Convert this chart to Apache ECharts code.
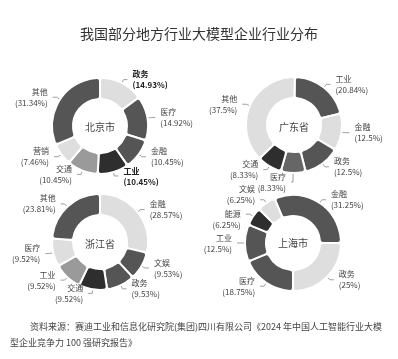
<!DOCTYPE html>
<html><head><meta charset="utf-8">
<script src="https://cdn.jsdelivr.net/npm/echarts@6/dist/echarts.min.js"></script>
<style>html,body{margin:0;padding:0;background:#fff}#c{width:398px;height:359px}</style>
</head><body><div id="c"></div>
<script>
const titleText = '我国部分地方行业大模型企业行业分布';
const sourceLine1 = '资料来源：赛迪工业和信息化研究院(集团)四川有限公司《2024 年中国人工智能行业大模';
const sourceLine2 = '型企业竞争力 100 强研究报告》';

const bjNames = ['政务','医疗','金融','工业','交通','营销','其他'];
const bjValues = [14.93,14.92,10.45,10.45,10.45,7.46,31.34];
const gdNames = ['工业','金融','政务','医疗','交通','其他'];
const gdValues = [20.84,12.5,12.5,8.33,8.33,37.5];
const zjNames = ['金融','文娱','政务','交通','工业','医疗','其他'];
const zjValues = [28.57,9.53,9.53,9.52,9.52,9.52,23.81];
const shNames = ['金融','政务','医疗','工业','能源','文娱'];
const shValues = [31.25,25,18.75,12.5,6.25,6.25];

const L='#dedede', D='#555555', V='#2e2e2e', M='#9a9a9a', G='#666666';
const bjColors=[L,D,D,V,M,L,D];
const gdColors=[D,L,D,G,V,L];
const zjColors=[L,D,D,V,M,L,D];
const shColors=[D,L,D,D,V,L];
const boldItems={'北京市':['政务','工业']};
// per-item label tweaks to keep neighbouring labels apart
const labelTweaks={
  '广东省':{'医疗':{line:{length:9,length2:2}}},
  '上海市':{'能源':{label:{formatter:'\n{b}\n({c}%)'}},'文娱':{label:{formatter:'{b}\n({c}%)\n '}}}
};

function mk(city,names,values,colors,center,start){
  const bold=boldItems[city]||[];
  const tw=labelTweaks[city]||{};
  return {
    type:'pie', center:center, radius:[27,48], startAngle:start,
    clockwise:true, avoidLabelOverlap:false,
    labelLayout:{hideOverlap:false},
    itemStyle:{borderColor:'#fff',borderWidth:2,borderRadius:3},
    label:{show:true,formatter:'{b}\n({c}%)',fontSize:8,lineHeight:11,color:'#444',
      fontFamily:'"Noto Sans CJK SC",sans-serif'},
    labelLine:{length:4,length2:4,lineStyle:{color:'#888',width:0.8}},
    emphasis:{disabled:true},
    data:names.map((n,i)=>{
      const lab=Object.assign({}, bold.includes(n)?{fontWeight:'bold',color:'#222'}:{}, (tw[n]&&tw[n].label)||{});
      const d={name:n,value:values[i],itemStyle:{color:colors[i]},label:lab};
      if(tw[n]&&tw[n].line) d.labelLine=tw[n].line;
      return d;
    })
  };
}
function centerText(t,x,y){
  return {type:'text',x:x,y:y,style:{text:t,fill:'#444',font:'10px "Noto Sans CJK SC"',align:'center',verticalAlign:'middle'}};
}
const chart=echarts.init(document.getElementById('c'),null,{renderer:'canvas'});
chart.setOption({
  backgroundColor:'#fff',
  animation:false,
  title:{text:titleText,left:'center',top:22,textStyle:{fontSize:14,fontWeight:'normal',color:'#333',fontFamily:'"Noto Sans CJK SC",sans-serif'}},
  series:[
    mk('北京市',bjNames,bjValues,bjColors,[100,126],90),
    mk('广东省',gdNames,gdValues,gdColors,[294,125],89),
    mk('浙江省',zjNames,zjValues,zjColors,[100,242],90),
    mk('上海市',shNames,shValues,shColors,[293,243],112.5)
  ],
  graphic:[
    centerText('北京市',100,127),
    centerText('广东省',294,127),
    centerText('浙江省',100,244),
    centerText('上海市',293,243),
    {type:'text',x:30,y:327,style:{text:sourceLine1,fill:'#444',font:'9px "Noto Sans CJK SC"',verticalAlign:'middle'}},
    {type:'text',x:10,y:343,style:{text:sourceLine2,fill:'#444',font:'9px "Noto Sans CJK SC"',verticalAlign:'middle'}}
  ]
});
</script></body></html>
